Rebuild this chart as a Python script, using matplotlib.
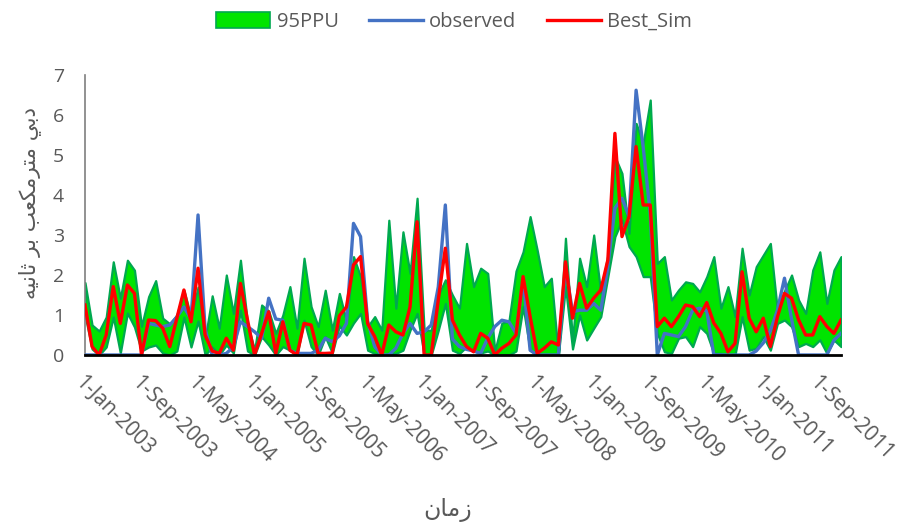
import matplotlib
matplotlib.use("Agg")
import matplotlib.pyplot as plt
import matplotlib.transforms as mtransforms
from matplotlib.patches import Patch
from matplotlib.lines import Line2D
import numpy as np
import pandas as pd

# monthly series, Jan 2003 .. Dec 2011 (108 months)
upper = [1.81, 0.75, 0.6, 0.95, 2.33, 1.42, 2.37, 2.12, 0.72, 1.46, 1.86, 0.92, 0.78, 1.0, 1.62, 0.95, 1.7, 0.4,
         1.48, 0.67, 2.0, 1.04, 2.37, 0.79, 0.12, 1.25, 1.1, 0.54, 1.0, 1.71, 0.67, 2.42, 1.21, 0.71, 1.62, 0.62, 1.54,
         0.85, 2.46, 1.96, 0.71, 0.96, 0.62, 3.37, 1.17, 3.08, 2.04, 3.92, 0.62, 0.62, 1.5, 1.88, 1.5, 1.17,
         2.79, 1.71, 2.17, 2.04, 0.1, 0.8, 0.85, 2.1, 2.58, 3.46, 2.62, 1.71, 1.92, 0.0, 2.92, 0.35,
         2.42, 1.71, 3.0, 1.55, 2.5, 4.96, 4.54, 3.04, 5.79, 5.29, 6.375, 2.29, 2.46, 1.375, 1.625, 1.83, 1.79, 1.58, 1.96, 2.46,
         1.17, 1.71, 0.96, 2.67, 1.5, 2.21, 2.5, 2.79, 1.1, 1.6, 2.0, 1.375, 1.04, 2.125, 2.58, 1.29, 2.125, 2.46]
lower = [1.0, 0.15, 0.0, 0.2, 0.95, 0.05, 1.05, 0.7, 0.1, 0.2, 0.25, 0.05, 0.0, 0.1, 0.95, 0.2, 0.85, 0.0,
         0.2, 0.0, 0.25, 0.05, 1.12, 0.1, 0.0, 0.46, 0.25, 0.0, 0.21, 0.12, 0.0, 0.87, 0.21, 0.0, 0.46, 0.05, 0.73,
         0.5, 0.8, 1.04, 0.12, 0.04, 0.0, 0.04, 0.04, 0.12, 0.62, 1.04, 0.0, 0.0, 0.62, 1.29, 0.12, 0.04,
         0.21, 0.1, 0.05, 0.1, 0.0, 0.0, 0.0, 0.1, 1.21, 0.12, 0.0, 0.0, 0.0, 0.0, 1.71, 0.15,
         1.0, 0.375, 0.67, 0.96, 1.96, 2.96, 3.375, 2.71, 2.46, 1.96, 1.96, 0.54, 0.08, 0.04, 0.42, 0.46, 0.21, 0.71, 0.54, 0.04,
         0.04, 0.0, 0.0, 0.96, 0.12, 0.17, 0.46, 0.12, 0.79, 0.875, 0.71, 0.21, 0.29, 0.21, 0.38, 0.04, 0.375, 0.21]
observed = [0, 0, 0, 0, 0, 0, 0, 0, 0, 0.79, 0.75, 0.71, 0.75, 0.95, 1.2, 0.9, 3.5, 0.65,
            0.0, 0.0, 0.04, 0.2, 0.83, 0.71, 0.58, 0.42, 1.42, 0.9, 0.87, 0.12, 0.04, 0.04, 0.04, 0.12, 0.42, 0.33, 0.48,
            0.79, 3.29, 2.96, 0.85, 0.21, 0.0, 0.0, 0.17, 0.54, 0.79, 0.54, 0.58, 0.75, 1.7, 3.75, 0.4, 0.21,
            0.14, 0.1, 0.04, 0.42, 0.71, 0.87, 0.83, 0.54, 1.9, 0.12, 0, 0, 0, 0, 2.2, 1.08,
            1.12, 1.12, 1.29, 1.12, 2.21, 3.67, 3.92, 3.46, 6.62, 5.2, 3.54, 0.0, 0.54, 0.5, 0.46, 0.71, 1.12, 1.17, 1.1, 0.0,
            0, 0, 0, 0, 0, 0.1, 0.3, 0.6, 1.12, 1.92, 0.9, 0, 0, 0, 0, 0, 0.37, 0.54]
best_sim = [1.25, 0.21, 0.0, 0.5, 1.71, 0.79, 1.75, 1.54, 0.0, 0.875, 0.86, 0.67, 0.21, 0.92, 1.625, 0.83, 2.17, 0.5,
            0.1, 0.04, 0.42, 0.12, 1.79, 0.875, 0.0, 0.54, 1.08, 0.04, 0.83, 0.12, 0.0, 0.79, 0.75, 0.04, 0.04, 0.05, 0.98,
            1.2, 2.25, 2.46, 0.79, 0.46, 0.0, 0.75, 0.58, 0.5, 1.2, 3.33, 0.0, 0.0, 1.375, 2.67, 0.875, 0.5,
            0.21, 0.08, 0.54, 0.42, 0.0, 0.17, 0.29, 0.5, 1.96, 0.96, 0.04, 0.17, 0.33, 0.25, 2.33, 0.92,
            1.79, 1.17, 1.42, 1.625, 2.375, 5.54, 2.96, 3.46, 5.21, 3.75, 3.75, 0.71, 0.92, 0.71, 0.96, 1.25, 1.21, 0.96, 1.31, 0.8,
            0.54, 0.08, 0.29, 2.08, 0.92, 0.58, 0.92, 0.21, 0.95, 1.54, 1.42, 0.875, 0.5, 0.5, 0.96, 0.71, 0.54, 0.875]

dates = pd.date_range("2003-01-01", periods=len(observed), freq="MS")
tick_step = 8
y_ticks = [0, 1, 2, 3, 4, 5, 6, 7]

y_title = "دبي مترمکعب بر ثانيه"
x_title = "زمان"


# matplotlib has no arabic shaping -> pick contextual forms by hand, then reverse
FORMS = {  # isolated, final, initial, medial (None = joins only to the right)
    "ا": ("\uFE8D", "\uFE8E", None, None),
    "ب": ("\uFE8F", "\uFE90", "\uFE91", "\uFE92"),
    "ت": ("\uFE95", "\uFE96", "\uFE97", "\uFE98"),
    "ث": ("\uFE99", "\uFE9A", "\uFE9B", "\uFE9C"),
    "د": ("\uFEA9", "\uFEAA", None, None),
    "ر": ("\uFEAD", "\uFEAE", None, None),
    "ز": ("\uFEAF", "\uFEB0", None, None),
    "ع": ("\uFEC9", "\uFECA", "\uFECB", "\uFECC"),
    "ک": ("\uFB8E", "\uFB8F", "\uFB90", "\uFB91"),
    "م": ("\uFEE1", "\uFEE2", "\uFEE3", "\uFEE4"),
    "ن": ("\uFEE5", "\uFEE6", "\uFEE7", "\uFEE8"),
    "ه": ("\uFEE9", "\uFEEA", "\uFEEB", "\uFEEC"),
    "ي": ("\uFEF1", "\uFEF2", "\uFEF3", "\uFEF4"),
}


def shape(s):
    out = []
    for k, c in enumerate(s):
        if c not in FORMS:
            out.append(c)
            continue
        f = FORMS[c]
        prev = s[k - 1] if k > 0 else ""
        nxt = s[k + 1] if k + 1 < len(s) else ""
        join_prev = prev in FORMS and FORMS[prev][2] is not None
        join_next = f[2] is not None and nxt in FORMS
        if join_prev and join_next:
            out.append(f[3])
        elif join_prev:
            out.append(f[1])
        elif join_next:
            out.append(f[2])
        else:
            out.append(f[0])
    return "".join(out)[::-1]


plt.rcParams["font.family"] = ["Open Sans", "DejaVu Sans"]

fig = plt.figure(figsize=(8.99, 5.27), dpi=100)
ax = fig.add_axes([85 / 899, 1 - 355 / 527, 756 / 899, 280 / 527])

x = np.arange(len(observed))
green = "#00E400"
dark_green = "#00A850"
blue = "#4472C4"
red = "#FF0000"
gray = "#595959"

ax.fill_between(x, lower, upper, facecolor=green, edgecolor=dark_green, linewidth=1.6, zorder=2)
ax.plot(x, observed, color=blue, linewidth=2.4, zorder=3, solid_joinstyle="round")
ax.plot(x, best_sim, color=red, linewidth=2.4, zorder=4, solid_joinstyle="round")

ax.set_xlim(0, len(observed) - 1)
ax.set_ylim(0, 7)
ax.set_yticks(y_ticks)
ax.set_yticklabels([str(v) for v in y_ticks], fontsize=14, color=gray)

tick_pos = x[::tick_step]
ax.set_xticks(tick_pos)
labels = ["%d-%s" % (d.day, d.strftime("%b-%Y")) for d in dates[::tick_step]]
ax.set_xticklabels(labels, fontsize=15, color=gray, rotation=-45,
                   ha="left", va="top", rotation_mode="anchor")
offset = mtransforms.ScaledTranslation(-6 / 100, 0, fig.dpi_scale_trans)
for lab in ax.get_xticklabels():
    lab.set_transform(lab.get_transform() + offset)

ax.tick_params(axis="both", length=0)
ax.tick_params(axis="y", pad=15)
ax.tick_params(axis="x", pad=12)

for side in ("top", "right"):
    ax.spines[side].set_visible(False)
ax.spines["left"].set_color("#7F7F7F")
ax.spines["left"].set_linewidth(1.2)
ax.spines["bottom"].set_color("black")
ax.spines["bottom"].set_linewidth(2)
ax.spines["bottom"].set_zorder(5)

fig.text(30 / 899, 1 - 203 / 527, shape(y_title), rotation=90, ha="center", va="center",
         fontsize=15.5, color=gray, family=["DejaVu Sans"])
fig.text(448 / 899, 1 - 510 / 527, shape(x_title), ha="center", va="center",
         fontsize=17, color=gray, family=["DejaVu Sans"])

handles = [Patch(facecolor=green, edgecolor=dark_green, linewidth=1.2),
           Line2D([], [], color=blue, linewidth=2.4),
           Line2D([], [], color=red, linewidth=2.4)]
fig.legend(handles, ["95PPU", "observed", "Best_Sim"], loc="center", ncol=3,
           bbox_to_anchor=(454 / 899, 1 - 22 / 527), frameon=False, fontsize=14.5,
           labelcolor=gray, handlelength=2.7, handleheight=0.8, handletextpad=0.3,
           columnspacing=1.5)

fig.savefig("out.png", dpi=100)
